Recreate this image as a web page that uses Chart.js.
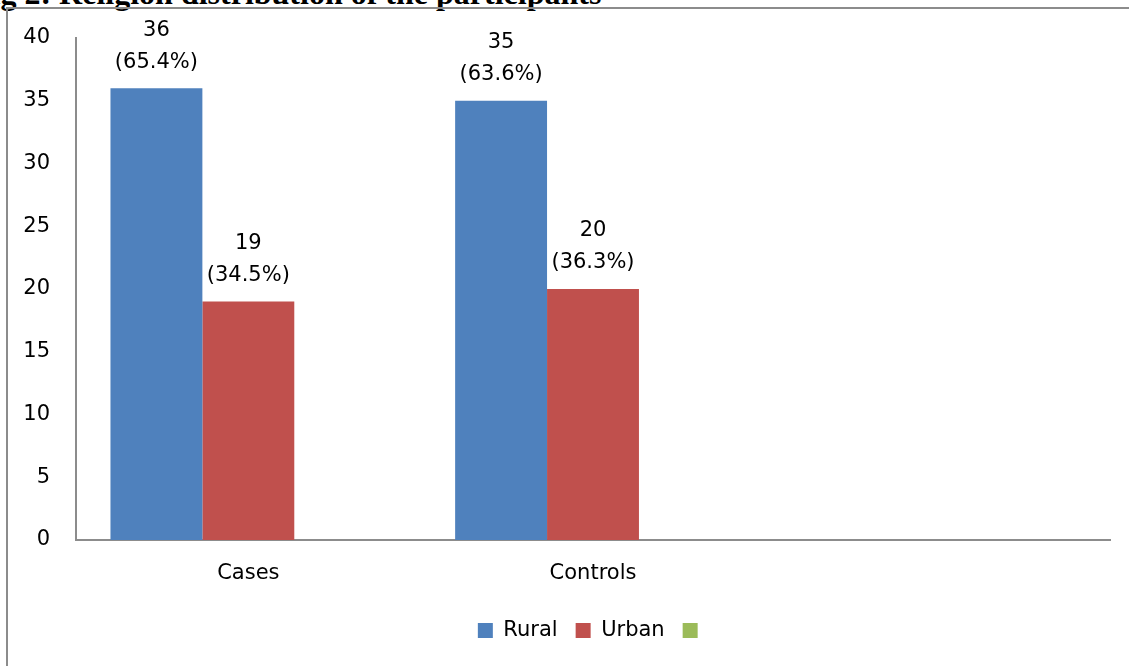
<!DOCTYPE html>
<html>
<head>
<meta charset="utf-8">
<script src="https://cdn.jsdelivr.net/npm/chart.js@4"></script>
<style>
  html, body { margin: 0; padding: 0; background: #fff; overflow: hidden; }
  #wrap { position: relative; width: 1129px; height: 666px; }
  #title {
    position: absolute; left: -28px; top: -23px;
    font: bold 32px "Liberation Serif", "Times New Roman", serif;
    line-height: 32px; white-space: nowrap; color: #000;
  }
  #frame {
    position: absolute; left: 6px; top: 7px; width: 1122px; height: 670px;
    border-left: 2px solid #8c8c8c; border-top: 2px solid #8c8c8c;
  }
  canvas { position: absolute; left: 0; top: 0; }
</style>
</head>
<body>
<div id="wrap">
  <div id="title">Fig 2: Religion distribution of the participants</div>
  <div id="frame"></div>
  <canvas id="chart" width="1129" height="666"></canvas>
</div>
<script>
/* --------------------------------------------
   Data
-------------------------------------------- */
const categories = ["Cases", "Controls", ""];
const rural = [36, 35, null];
const urban = [19, 20, null];
const ruralPct = ["65.4%", "63.6%"];
const urbanPct = ["34.5%", "36.3%"];
const yTicks = [0, 5, 10, 15, 20, 25, 30, 35, 40];

const FONT = "'DejaVu Sans', sans-serif";
const FS = 21;

/* --------------------------------------------
   Value labels above bars: "n" over "(pct%)"
-------------------------------------------- */
const barLabels = {
  id: "barLabels",
  afterDatasetsDraw(chart) {
    const { ctx } = chart;
    const pcts = [ruralPct, urbanPct];
    ctx.save();
    ctx.font = `${FS}px ${FONT}`;
    ctx.fillStyle = "#000";
    ctx.textAlign = "center";
    ctx.textBaseline = "middle";
    [0, 1].forEach((di) => {
      const meta = chart.getDatasetMeta(di);
      meta.data.forEach((bar, i) => {
        const v = chart.data.datasets[di].data[i];
        if (v == null) return;
        ctx.fillText(String(v), bar.x, bar.y - 58);
        ctx.fillText(`(${pcts[di][i]})`, bar.x, bar.y - 26);
      });
    });
    ctx.restore();
  },
};

/* --------------------------------------------
   Chart
-------------------------------------------- */
new Chart(document.getElementById("chart"), {
  type: "bar",
  data: {
    labels: categories,
    datasets: [
      { label: "Rural", data: rural, backgroundColor: "#4f81bd" },
      { label: "Urban", data: urban, backgroundColor: "#c0504d" },
      { label: "", data: [null, null, null], backgroundColor: "#9bbb59" },
    ],
  },
  options: {
    responsive: false,
    animation: false,
    categoryPercentage: 0.8,
    barPercentage: 1.0,
    layout: { padding: { top: 38, right: 19, left: 0, bottom: 15 } },
    plugins: {
      title: { display: false },
      tooltip: { enabled: false },
      legend: {
        position: "bottom",
        fullSize: false,
        labels: {
          color: "#000",
          font: { family: FONT, size: FS },
          boxWidth: 15,
          boxHeight: 15,
          padding: 18,
        },
      },
    },
    scales: {
      x: {
        grid: { display: false },
        border: { display: true, color: "#8c8c8c", width: 2 },
        ticks: { color: "#000", font: { family: FONT, size: FS }, padding: 13 },
        afterFit: (s) => { s.height = 62; },
      },
      y: {
        min: 0,
        max: 40,
        afterBuildTicks: (s) => { s.ticks = yTicks.map((v) => ({ value: v })); },
        grid: { display: false },
        border: { display: true, color: "#8c8c8c", width: 2 },
        ticks: { color: "#000", font: { family: FONT, size: FS }, padding: 18 },
        afterFit: (s) => { s.width = 76; },
      },
    },
  },
  plugins: [barLabels],
});
</script>
</body>
</html>
